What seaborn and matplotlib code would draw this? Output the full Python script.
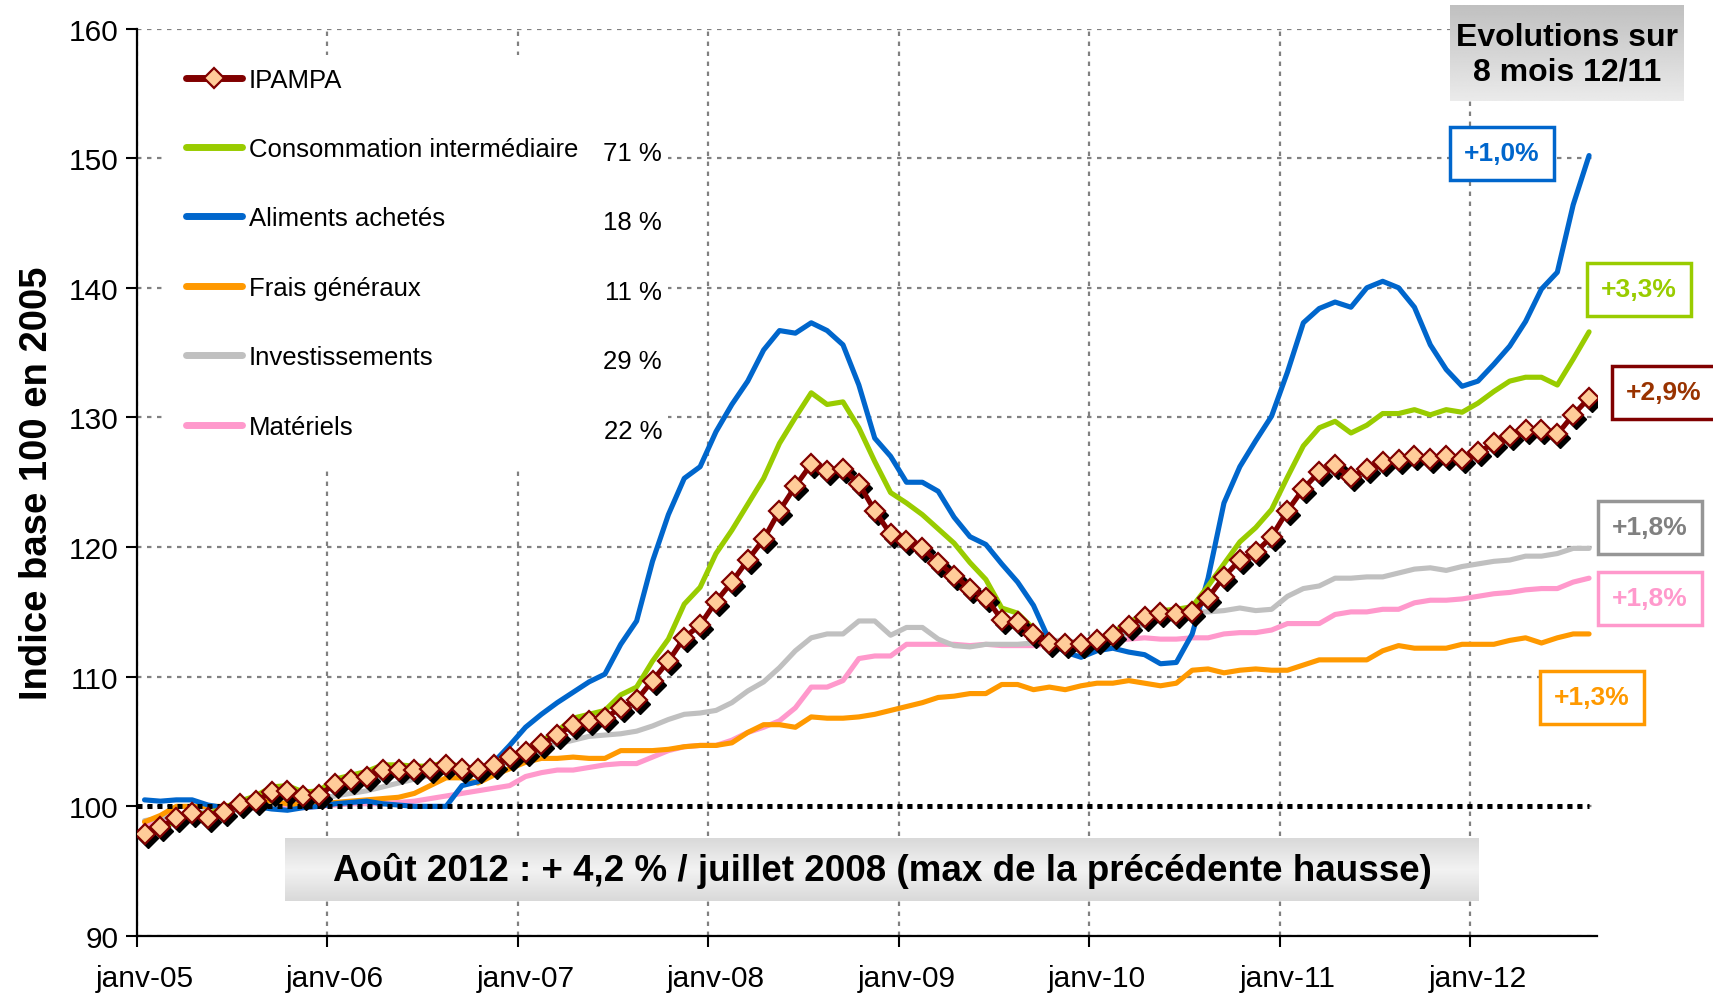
import numpy as np
import seaborn as sns
import matplotlib.pyplot as plt
from matplotlib import transforms
from matplotlib.patches import Rectangle

# monthly indices, janv-05 .. août-12 (base 100 en 2005)
ipampa = [97.9, 98.4, 99.1, 99.5, 99.1, 99.6, 100.2, 100.4, 101.1, 101.2, 100.8, 100.9,
          101.7, 102.0, 102.3, 102.8, 102.8, 102.8, 102.9, 103.2, 102.9, 102.9, 103.2, 103.8,
          104.2, 104.8, 105.5, 106.3, 106.6, 106.8, 107.6, 108.2, 109.7, 111.2, 113.0, 114.0,
          115.8, 117.3, 119.0, 120.6, 122.8, 124.7, 126.4, 125.9, 126.0, 124.9, 122.8, 121.0,
          120.5, 119.9, 118.8, 117.8, 116.8, 116.1, 114.4, 114.2, 113.3, 112.6, 112.5, 112.5,
          112.8, 113.2, 113.9, 114.6, 114.9, 114.8, 115.0, 116.1, 117.7, 119.0, 119.6, 120.8,
          122.8, 124.5, 125.8, 126.3, 125.4, 126.0, 126.6, 126.7, 127.0, 126.8, 127.0, 126.8,
          127.3, 128.0, 128.6, 129.0, 129.0, 128.7, 130.2, 131.5]
conso = [97.6, 98.2, 99.0, 99.5, 99.4, 99.9, 100.4, 100.8, 101.5, 101.6, 101.1, 101.2,
         102.1, 102.4, 102.7, 103.2, 103.2, 103.1, 103.1, 103.4, 103.0, 102.9, 103.3, 103.9,
         104.3, 105.0, 105.8, 106.8, 107.1, 107.4, 108.6, 109.2, 111.2, 112.9, 115.6, 116.9,
         119.5, 121.3, 123.3, 125.3, 128.0, 130.0, 131.9, 131.0, 131.2, 129.2, 126.6, 124.2,
         123.4, 122.5, 121.4, 120.3, 118.8, 117.5, 115.3, 114.9, 113.7, 112.6, 112.5, 112.5,
         112.9, 113.4, 114.2, 114.8, 115.1, 115.2, 115.4, 117.0, 118.7, 120.4, 121.5, 122.9,
         125.4, 127.8, 129.2, 129.7, 128.8, 129.4, 130.3, 130.3, 130.6, 130.2, 130.6, 130.4,
         131.1, 132.0, 132.8, 133.1, 133.1, 132.5, 134.5, 136.6]
aliments = [100.5, 100.4, 100.5, 100.5, 100.1, 99.9, 100.0, 100.0, 99.8, 99.7, 99.9, 100.0,
            100.2, 100.3, 100.4, 100.2, 100.1, 100.0, 100.0, 100.0, 101.6, 101.9, 103.4, 104.7,
            106.1, 107.1, 108.0, 108.8, 109.6, 110.2, 112.5, 114.3, 118.9, 122.5, 125.3, 126.2,
            128.9, 131.0, 132.8, 135.2, 136.7, 136.5, 137.3, 136.7, 135.6, 132.5, 128.4, 127.0,
            125.0, 125.0, 124.3, 122.3, 120.8, 120.2, 118.7, 117.3, 115.5, 112.8, 111.9, 111.5,
            112.0, 112.2, 111.9, 111.7, 111.0, 111.1, 113.3, 117.6, 123.4, 126.2, 128.2, 130.1,
            133.5, 137.3, 138.4, 138.9, 138.5, 140.0, 140.5, 140.0, 138.5, 135.6, 133.7, 132.4,
            132.8, 134.1, 135.5, 137.4, 139.9, 141.2, 146.4, 150.2]
frais = [98.8, 99.3, 100.0, 100.0, 100.0, 100.0, 100.2, 100.5, 100.4, 100.2, 100.1, 100.2,
         100.3, 100.4, 100.5, 100.6, 100.7, 101.0, 101.6, 102.2, 102.2, 101.8, 102.4, 102.9,
         103.4, 103.7, 103.7, 103.8, 103.7, 103.7, 104.3, 104.3, 104.3, 104.4, 104.6, 104.7,
         104.7, 104.9, 105.7, 106.3, 106.3, 106.1, 106.9, 106.8, 106.8, 106.9, 107.1, 107.4,
         107.7, 108.0, 108.4, 108.5, 108.7, 108.7, 109.4, 109.4, 109.0, 109.2, 109.0, 109.3,
         109.5, 109.5, 109.7, 109.5, 109.3, 109.5, 110.5, 110.6, 110.3, 110.5, 110.6, 110.5,
         110.5, 110.9, 111.3, 111.3, 111.3, 111.3, 112.0, 112.4, 112.2, 112.2, 112.2, 112.5,
         112.5, 112.5, 112.8, 113.0, 112.6, 113.0, 113.3, 113.3]
invest = [98.9, 99.1, 99.3, 99.5, 99.6, 99.7, 99.8, 99.9, 100.1, 100.3, 100.4, 100.5,
          100.8, 101.0, 101.2, 101.5, 101.8, 102.1, 102.4, 102.7, 102.9, 103.0, 103.2, 103.6,
          104.1, 104.6, 104.8, 105.1, 105.4, 105.5, 105.6, 105.8, 106.2, 106.7, 107.1, 107.2,
          107.4, 108.0, 108.9, 109.6, 110.7, 112.0, 113.0, 113.3, 113.3, 114.3, 114.3, 113.2,
          113.8, 113.8, 112.9, 112.4, 112.3, 112.5, 112.5, 112.5, 112.6, 112.8, 112.8, 112.6,
          112.8, 112.9, 113.4, 114.1, 114.6, 114.8, 115.0, 115.0, 115.1, 115.3, 115.1, 115.2,
          116.2, 116.8, 117.0, 117.6, 117.6, 117.7, 117.7, 118.0, 118.3, 118.4, 118.2, 118.5,
          118.7, 118.9, 119.0, 119.3, 119.3, 119.5, 119.9, 119.9]
materiels = [98.5, 98.9, 99.2, 99.4, 99.5, 99.6, 99.8, 99.9, 100.0, 100.1, 99.9, 100.0,
             100.1, 100.2, 100.2, 100.2, 100.3, 100.4, 100.6, 100.8, 101.0, 101.2, 101.4, 101.6,
             102.3, 102.6, 102.8, 102.8, 103.0, 103.2, 103.3, 103.3, 103.8, 104.3, 104.6, 104.7,
             104.7, 105.1, 105.7, 106.1, 106.6, 107.6, 109.2, 109.2, 109.7, 111.4, 111.6, 111.6,
             112.5, 112.5, 112.5, 112.5, 112.4, 112.5, 112.4, 112.4, 112.4, 112.5, 112.5, 112.6,
             112.8, 112.8, 112.9, 113.0, 112.9, 112.9, 113.0, 113.0, 113.3, 113.4, 113.4, 113.6,
             114.1, 114.1, 114.1, 114.8, 115.0, 115.0, 115.2, 115.2, 115.7, 115.9, 115.9, 116.0,
             116.2, 116.4, 116.5, 116.7, 116.8, 116.8, 117.3, 117.6]

year_labels = ['janv-05', 'janv-06', 'janv-07', 'janv-08', 'janv-09', 'janv-10', 'janv-11', 'janv-12']
names = ['IPAMPA', 'Consommation intermédiaire', 'Aliments achetés', 'Frais généraux',
         'Investissements', 'Matériels']
weights = ['71 %', '18 %', '11 %', '29 %', '22 %']
evolutions = ['+1,0%', '+3,3%', '+2,9%', '+1,8%', '+1,8%', '+1,3%']

sns.set_style('white')
plt.rcParams['font.family'] = ['Liberation Sans', 'DejaVu Sans']
for key in ['text.color', 'axes.labelcolor', 'xtick.color', 'ytick.color']:
    plt.rcParams[key] = 'black'

W, H = 1713, 995
fig = plt.figure(figsize=(W / 100, H / 100), dpi=100)
ax = fig.add_axes([136.6 / W, 1 - 937 / H, 1460.4 / W, 907.5 / H])

x = np.arange(len(ipampa)) + 0.5
lw = 3.7

# plain series, drawn back to front
plain = [
    (names[5], materiels, '#FF99CC'),
    (names[4], invest, '#C0C0C0'),
    (names[3], frais, '#FF9900'),
    (names[2], aliments, '#0066CC'),
    (names[1], conso, '#99CC00'),
]
handles = {}
for name, vals, col in plain:
    sns.lineplot(x=x, y=vals, color=col, linewidth=lw, ax=ax, zorder=2, label=name)
    handles[name] = ax.lines[-1]

# 100 reference line
ax.hlines(100, 0, x[-1], colors='black', linestyles=(0, (1, 1)), linewidth=3.6, zorder=3)

# IPAMPA with shadowed diamonds
shadow = transforms.offset_copy(ax.transData, fig=fig, x=3, y=-4, units='dots')
ax.plot(x, ipampa, linestyle='none', marker='D', markersize=10.5, color='black',
        transform=shadow, zorder=4)
sns.lineplot(x=x, y=ipampa, color='#800000', linewidth=lw, marker='D', markersize=10.5,
             markerfacecolor='#FFCC99', markeredgecolor='#800000', markeredgewidth=1.6,
             ax=ax, zorder=5, label=names[0])
handles[names[0]] = ax.lines[-1]

ax.set_xlim(0, 92)
ax.set_ylim(90, 160)
ax.set_yticks(range(90, 161, 10))
ax.set_xticks(range(0, 85, 12))
ax.set_xticklabels([])
ax.set_xticks(np.arange(0, 85, 12) + 0.5, minor=True)
ax.set_xticklabels(year_labels, minor=True)
ax.tick_params(which='major', direction='out', length=8, width=1.5, colors='black',
               labelsize=21.5, pad=5)
ax.tick_params(axis='x', which='minor', length=0, labelsize=21.5, pad=20)
ax.tick_params(axis='x', which='major', bottom=True)
ax.tick_params(axis='y', left=True)
ax.grid(True, which='major', color='#808080', linestyle=(0, (2, 2.5)), linewidth=1.6)
ax.set_axisbelow(True)
for side in ['top', 'right']:
    ax.spines[side].set_visible(False)
for side in ['left', 'bottom']:
    ax.spines[side].set_color('black')
    ax.spines[side].set_linewidth(1.6)
ax.set_xlabel('')
ax.set_ylabel('Indice base 100 en 2005', fontsize=27.5, fontweight='bold', labelpad=10)

# white area behind the legend
ax.add_patch(Rectangle((0.020, 0.513), 0.344, 0.458, transform=ax.transAxes,
                       facecolor='white', edgecolor='none', zorder=1))
leg = ax.legend([handles[n] for n in names], names, loc='upper left',
                bbox_to_anchor=(0.0338, 0.957), frameon=False, fontsize=18.5,
                handlelength=2.2, handletextpad=0.25, labelspacing=1.77,
                borderpad=0, borderaxespad=0, numpoints=1)
for line in leg.get_lines():
    line.set_linewidth(5)

fig.canvas.draw()
inv = ax.transAxes.inverted()
for txt, pct in zip(leg.get_texts()[1:], weights):
    bb = txt.get_window_extent()
    yc = inv.transform((0, (bb.y0 + bb.y1) / 2))[1]
    ax.text(0.3598, yc - 0.004, pct, ha='right', va='center', transform=ax.transAxes,
            fontsize=18.5, zorder=6)


def grad_box(x0, y0, x1, y1, pos, levels):
    bax = fig.add_axes([x0 / W, 1 - y1 / H, (x1 - x0) / W, (y1 - y0) / H], zorder=5)
    g = np.interp(np.linspace(0, 1, 100), pos, levels)
    bax.imshow(g[:, None], aspect='auto', cmap='gray', vmin=0, vmax=1)
    bax.axis('off')


grad_box(1450, 5.5, 1684, 101.6, [0, 1], [0.75, 0.92])
fig.text(1567 / W, 1 - 55 / H, 'Evolutions sur\n8 mois 12/11', fontsize=23,
         fontweight='bold', ha='center', va='center', linespacing=1.2, zorder=7)

grad_box(285, 839, 1478, 902, [0, 0.5, 1], [0.85, 0.95, 0.85])
fig.text(882 / W, 1 - 871 / H,
         'Août 2012 : + 4,2 % / juillet 2008 (max de la précédente hausse)',
         fontsize=26.5, fontweight='bold', ha='center', va='center', zorder=7)

# evolution labels: (center x, center y, text colour, edge colour), in pixels
boxes = [
    (1502, 154, '#0066CC', '#0066CC'),
    (1639, 290, '#99CC00', '#99CC00'),
    (1664, 393, '#993300', '#800000'),
    (1650, 528, '#808080', '#969696'),
    (1650, 599, '#FF99CC', '#FF99CC'),
    (1592, 698, '#FF9900', '#FF9900'),
]
bw, bh = 104, 53
for (cx, cy, tc, ec), lab in zip(boxes, evolutions):
    fig.add_artist(Rectangle(((cx - bw / 2) / W, 1 - (cy + bh / 2) / H), bw / W, bh / H,
                             transform=fig.transFigure, facecolor='white',
                             edgecolor=ec, linewidth=2.5, zorder=6))
    fig.text(cx / W, 1 - cy / H, lab, color=tc, fontsize=19, fontweight='bold',
             ha='center', va='center', zorder=7)

fig.savefig('out.png', dpi=100)
